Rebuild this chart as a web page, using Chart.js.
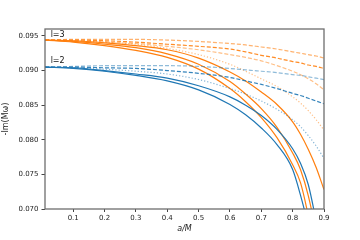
<!DOCTYPE html>
<html>
<head>
<meta charset="utf-8">
<script src="https://cdn.jsdelivr.net/npm/chart.js@4/dist/chart.umd.min.js"></script>
<style>
    body { margin: 0; background: #fff; }
    #wrap { width: 360px; height: 240px; }
</style>
</head>
<body>
<div id="wrap"><canvas id="qnmChart" width="360" height="240"></canvas></div>
<script>
// spin values a/M
const aVals = [0.01, 0.1, 0.2, 0.3, 0.4, 0.5, 0.6, 0.65, 0.7, 0.75, 0.8, 0.825, 0.85, 0.875, 0.9];

// l=2 (blue)
const l2SolidA = [0.0905, 0.0903, 0.0899, 0.0893, 0.0885, 0.0872, 0.0851, 0.0836, 0.0817, 0.0793, 0.0757, 0.0720, 0.0675, 0.0620, 0.0550];
const l2SolidB = [0.0905, 0.0904, 0.0900, 0.0895, 0.0889, 0.0878, 0.0862, 0.0850, 0.0835, 0.0815, 0.0787, 0.0766, 0.0735, 0.0682, 0.0620];
const l2Dotted = [0.0905, 0.0904, 0.0902, 0.0899, 0.0895, 0.0887, 0.0874, 0.0866, 0.0856, 0.0844, 0.0829, 0.0819, 0.0806, 0.0791, 0.0773];
const l2DashA = [0.0905, 0.0905, 0.0904, 0.0903, 0.0900, 0.0896, 0.0890, 0.0885, 0.0880, 0.0874, 0.0867, 0.0864, 0.0860, 0.0856, 0.0852];
const l2DashB = [0.0905, 0.0906, 0.0907, 0.0907, 0.0907, 0.0906, 0.0903, 0.0901, 0.0899, 0.0897, 0.0894, 0.0893, 0.0891, 0.0889, 0.0887];

// l=3 (orange)
const l3SolidE = [0.0944, 0.0941, 0.0936, 0.0929, 0.0919, 0.0902, 0.0874, 0.0855, 0.0832, 0.0803, 0.0764, 0.0738, 0.0690, 0.0630, 0.0560];
const l3SolidD = [0.0944, 0.0942, 0.0938, 0.0933, 0.0924, 0.0909, 0.0884, 0.0866, 0.0845, 0.0818, 0.0781, 0.0757, 0.0719, 0.0665, 0.0600];
const l3SolidC = [0.0944, 0.0943, 0.0940, 0.0936, 0.0930, 0.0918, 0.0898, 0.0885, 0.0869, 0.0851, 0.0826, 0.0808, 0.0786, 0.0760, 0.0728];
const l3Dotted = [0.0944, 0.0943, 0.0941, 0.0938, 0.0932, 0.0923, 0.0909, 0.0899, 0.0888, 0.0877, 0.0862, 0.0853, 0.0842, 0.0829, 0.0814];
const l3DashC = [0.0944, 0.0943, 0.0941, 0.0939, 0.0935, 0.0930, 0.0923, 0.0919, 0.0914, 0.0907, 0.0899, 0.0894, 0.0888, 0.0881, 0.0872];
const l3DashB = [0.0944, 0.0944, 0.0943, 0.0941, 0.0938, 0.0935, 0.0931, 0.0927, 0.0922, 0.0918, 0.0913, 0.0911, 0.0908, 0.0906, 0.0903];
const l3DashA = [0.0944, 0.0945, 0.0945, 0.0945, 0.0944, 0.0942, 0.0939, 0.0937, 0.0934, 0.0931, 0.0927, 0.0925, 0.0923, 0.0921, 0.0918];

const xTicks = [0.1, 0.2, 0.3, 0.4, 0.5, 0.6, 0.7, 0.8, 0.9];
const yTicks = [0.070, 0.075, 0.080, 0.085, 0.090, 0.095];

const labels = [
    {text: 'l=3', a: 0.028, v: 0.0952},
    {text: 'l=2', a: 0.028, v: 0.0914},
];

const blue = 'rgba(31, 119, 180, ';
const orange = 'rgba(255, 127, 14, ';

function line(values, color, alpha, dash) {
    return {
        data: values.map((v, i) => ({x: aVals[i], y: v})),
        borderColor: color + alpha + ')',
        borderWidth: 1.2,
        borderDash: dash,
        pointRadius: 0,
        fill: false,
        cubicInterpolationMode: 'monotone',
    };
}

const dashed = [4, 2];
const dotted = [1.2, 2];

const frame = {
    id: 'frame',
    afterDatasetsDraw(chart) {
        const {ctx, chartArea: c, scales} = chart;
        ctx.save();
        ctx.strokeStyle = '#6e6e6e';
        ctx.lineWidth = 1.3;
        ctx.strokeRect(c.left, c.top, c.right - c.left, c.bottom - c.top);
        ctx.fillStyle = '#111';
        ctx.font = '8px "DejaVu Sans"';
        ctx.textBaseline = 'middle';
        labels.forEach(l => {
            ctx.fillText(l.text, scales.x.getPixelForValue(l.a), scales.y.getPixelForValue(l.v));
        });
        ctx.restore();
    }
};

new Chart(document.getElementById('qnmChart'), {
    type: 'line',
    data: {
        datasets: [
            line(l2SolidA, blue, 1, []),
            line(l2SolidB, blue, 1, []),
            line(l2Dotted, blue, 0.55, dotted),
            line(l2DashA, blue, 0.9, dashed),
            line(l2DashB, blue, 0.5, dashed),
            line(l3SolidE, orange, 1, []),
            line(l3SolidD, orange, 1, []),
            line(l3SolidC, orange, 1, []),
            line(l3Dotted, orange, 0.5, dotted),
            line(l3DashC, orange, 0.5, dashed),
            line(l3DashB, orange, 0.9, dashed),
            line(l3DashA, orange, 0.6, dashed),
        ]
    },
    options: {
        responsive: false,
        animation: false,
        layout: {padding: {left: 0, right: 36, top: 29, bottom: 0}},
        plugins: {legend: {display: false}, tooltip: {enabled: false}},
        scales: {
            x: {
                type: 'linear',
                min: 0.01,
                max: 0.9,
                afterBuildTicks: s => { s.ticks = xTicks.map(v => ({value: v})); },
                afterFit: s => { s.height = 31; },
                grid: {display: true, drawOnChartArea: false, tickLength: 3, tickColor: '#444'},
                border: {display: false},
                ticks: {
                    color: '#222', font: {family: 'DejaVu Sans', size: 7}, padding: 2,
                    maxRotation: 0, callback: v => v.toFixed(1)
                },
                title: {display: true, text: 'a/M', color: '#222', font: {family: 'DejaVu Sans', size: 8, style: 'italic'}, padding: {top: 0, bottom: 6}}
            },
            y: {
                min: 0.07,
                max: 0.096,
                afterBuildTicks: s => { s.ticks = yTicks.map(v => ({value: v})); },
                afterFit: s => { s.width = 45; },
                grid: {display: true, drawOnChartArea: false, tickLength: 3.5, tickColor: '#444'},
                border: {display: false},
                ticks: {
                    color: '#222', font: {family: 'DejaVu Sans', size: 7}, padding: 3,
                    callback: v => v.toFixed(3)
                },
                title: {display: true, text: '-Im(Mω)', color: '#222', font: {family: 'DejaVu Sans', size: 8}, padding: {top: 1.5, bottom: 0}}
            }
        }
    },
    plugins: [frame]
});
</script>
</body>
</html>
